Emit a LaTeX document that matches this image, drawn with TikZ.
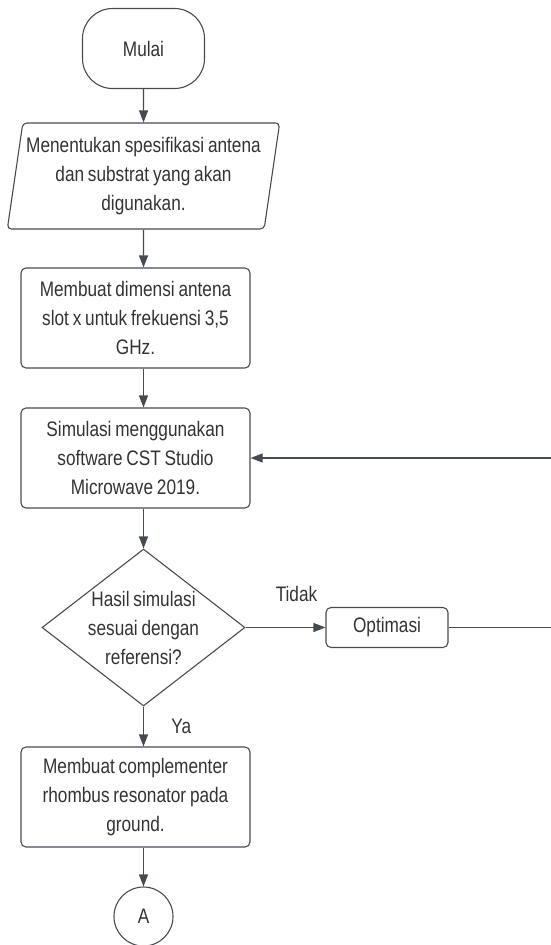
\documentclass[tikz,border=0pt]{standalone}
\usepackage{fontspec}
\setmainfont[FakeStretch=0.82,WordSpace=0.8]{Liberation Sans}
\usetikzlibrary{shapes.geometric,arrows.meta}
\definecolor{lineclr}{HTML}{464B52}
\definecolor{textclr}{HTML}{333333}

\begin{document}
\begin{tikzpicture}[x=1pt,y=1pt,
    every node/.style={text=textclr,font=\fontsize{21}{29}\selectfont},
    terminal/.style={draw=lineclr,line width=1.1pt,rectangle,rounded corners=30pt,minimum width=122pt,minimum height=80pt},
    inputbox/.style={draw=lineclr,line width=1.1pt,trapezium,trapezium left angle=79,trapezium right angle=101,trapezium stretches=true,rounded corners=4pt,minimum width=273pt,minimum height=106pt,inner sep=0pt,align=center},
    procbox/.style={draw=lineclr,line width=1.1pt,rectangle,rounded corners=5pt,minimum width=229pt,minimum height=100pt,align=center,inner sep=0pt},
    decision/.style={draw=lineclr,line width=1.1pt,diamond,minimum width=203pt,minimum height=157pt,inner sep=0pt},
    connector/.style={draw=lineclr,line width=1.1pt,circle,minimum size=59pt,inner sep=0pt},
    arrow/.style={draw=lineclr,line width=1.1pt,-{Triangle[length=12pt,width=9pt]}}]
      \useasboundingbox (0,0) rectangle (551,-945);
      \node[terminal] (mulai) at (143.5,-48.5) {Mulai};
      \node[inputbox] (spek) at (143.5,-176) {Menentukan spesifikasi antena\\dan substrat yang akan\\digunakan.};
      \node[procbox] (dimensi) at (135.5,-318) {Membuat dimensi antena\\slot x untuk frekuensi 3,5\\GHz.};
      \node[procbox] (simulasi) at (135.5,-458) {Simulasi menggunakan\\software CST Studio\\Microwave 2019.};
      \node[decision] (cek) at (143.5,-627.5) {};
      \node[align=center] at (cek) {Hasil simulasi\\sesuai dengan\\referensi?};
      \node[draw=lineclr,line width=1.1pt,rectangle,rounded corners=5pt,minimum width=122pt,minimum height=40pt] (optimasi) at (387,-627.5) {Optimasi};
      \node[procbox] (cslot) at (135.5,-797) {Membuat complementer\\rhombus resonator pada\\ground.};
      \node[connector] (hubA) at (143.5,-916.5) {A};
      \coordinate (balik) at (556,-627.5);
      \draw[arrow] (mulai) -- (spek);
      \draw[arrow] (spek) -- (dimensi.north -| spek);
      \draw[arrow] (dimensi.south -| spek) -- (simulasi.north -| spek);
      \draw[arrow] (simulasi.south -| cek) -- (cek);
      \draw[arrow] (cek) -- node[above=22pt,xshift=11pt]{Tidak} (optimasi);
      \draw[arrow] (optimasi.east) -- (balik) |- (simulasi.east);
      \draw[arrow] (cek) -- node[right=24pt]{Ya} (cslot.north -| cek);
      \draw[arrow] (cslot.south -| hubA) -- (hubA);
\end{tikzpicture}
\end{document}
